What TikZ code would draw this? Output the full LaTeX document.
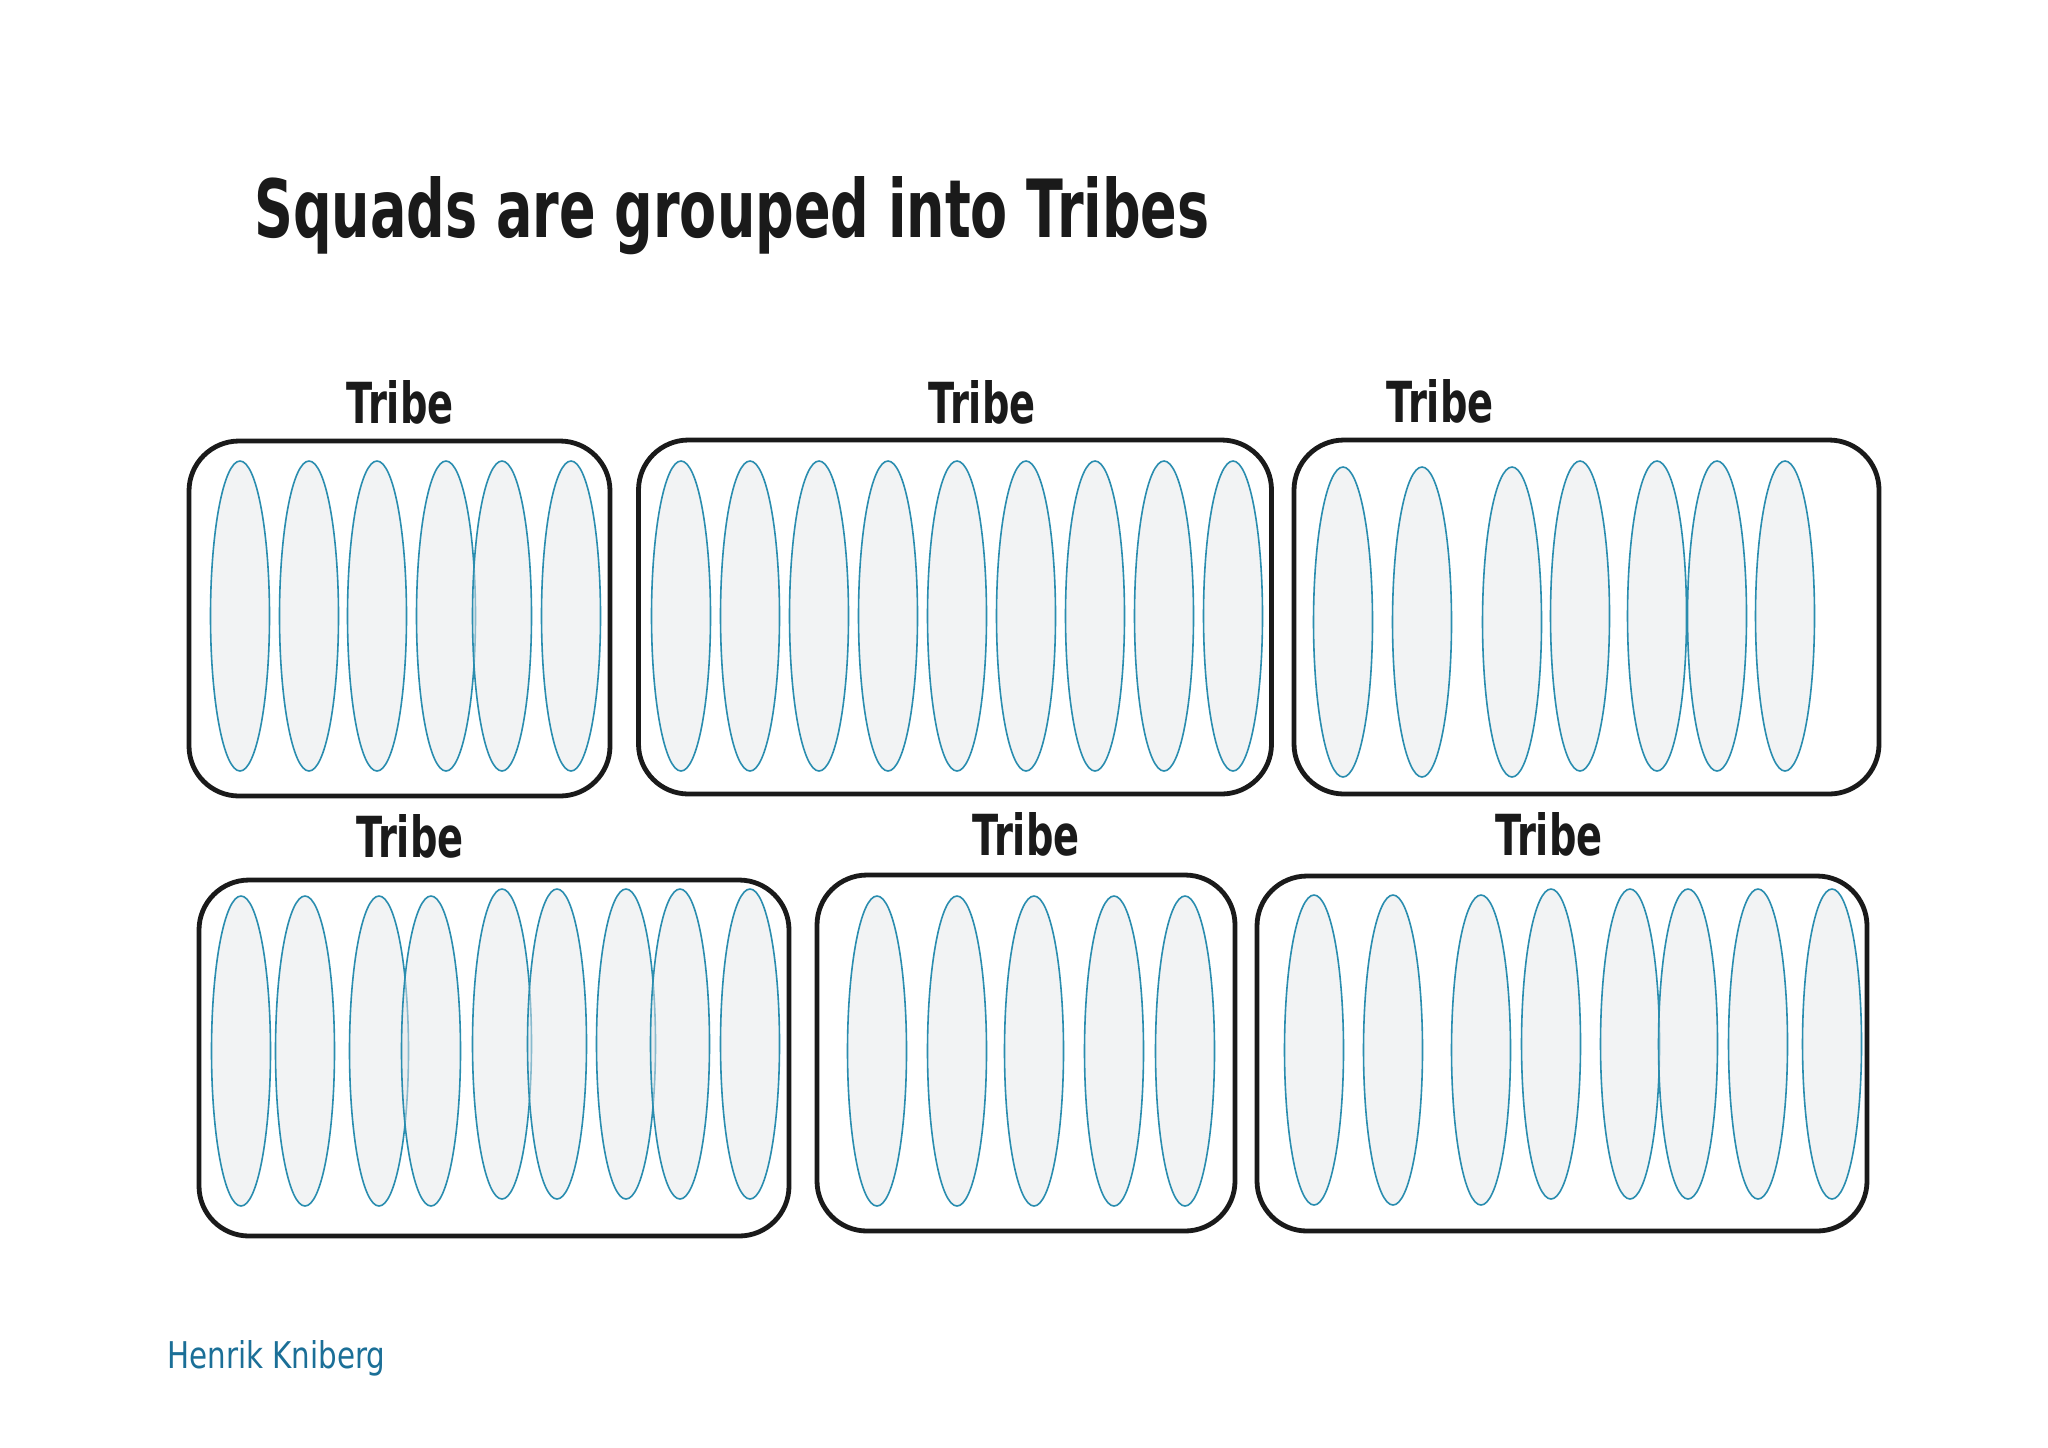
\documentclass[tikz,border=0pt]{standalone}
\usepackage{fontspec}
\usepackage{graphicx}
\usetikzlibrary{shapes.geometric}
\newfontfamily\handfont{DejaVu Sans Condensed}
\definecolor{boxblack}{HTML}{1A1A1A}
\definecolor{squadline}{HTML}{2A8DAF}
\definecolor{squadfill}{HTML}{E6E8EB}
\definecolor{authorblue}{HTML}{1B6F97}
\tikzset{
  tribebox/.style={draw=boxblack, line width=2.4pt, rounded corners=25pt, inner sep=0pt, fill=none},
  squad/.style={ellipse, draw=squadline, line width=0.8pt, fill=squadfill, fill opacity=0.5,
                minimum width=29.5pt, minimum height=155pt, inner sep=0pt},
  tribelabel/.style={anchor=base, inner sep=0pt, text=boxblack},
}
\newcommand{\tribetext}{\resizebox{53.5pt}{21.5pt}{\handfont\bfseries Tribe}}
\begin{document}
\begin{tikzpicture}[x=0.5pt,y=-0.5pt]
\useasboundingbox (0,0) rectangle (2048,1447);
\fill[white] (0,0) rectangle (2048,1447);

% title
\node[anchor=base west, inner sep=0pt, text=boxblack] (title) at (254,237)
  {\resizebox{477.5pt}{30.5pt}{\handfont\bfseries Squads are grouped into Tribes}};

% tribe boxes
\node[tribebox, minimum width=210.5pt, minimum height=177.5pt] (b1) at (399.5,618.5) {};
\node[tribebox, minimum width=316.5pt, minimum height=177pt] (b2) at (955,617) {};
\node[tribebox, minimum width=292.5pt, minimum height=177pt] (b3) at (1586.5,617) {};
\node[tribebox, minimum width=295pt, minimum height=178pt] (b4) at (494,1058) {};
\node[tribebox, minimum width=209pt, minimum height=178pt] (b5) at (1026,1053) {};
\node[tribebox, minimum width=305pt, minimum height=177.5pt] (b6) at (1562,1053.5) {};

% labels
\node[tribelabel] (t1) at (400,423) {\tribetext};
\node[tribelabel] (t2) at (982,423) {\tribetext};
\node[tribelabel] (t3) at (1440,422) {\tribetext};
\node[tribelabel] (t4) at (410,857) {\tribetext};
\node[tribelabel] (t5) at (1026,855) {\tribetext};
\node[tribelabel] (t6) at (1549,855) {\tribetext};

% squads
\foreach \x [count=\i] in {240,309,377,446,502,571}
  \node[squad] (s1-\i) at (\x,616) {};
\foreach \x [count=\i] in {681,750,819,888,957,1026,1095,1164,1233}
  \node[squad] (s2-\i) at (\x,616) {};
\foreach \x [count=\i] in {1343,1422,1512}
  \node[squad] (s3-\i) at (\x,622) {};
\foreach \x [count=\i from 4] in {1580,1657,1717,1785}
  \node[squad] (s3-\i) at (\x,616) {};
\foreach \x [count=\i] in {241,305,379,431}
  \node[squad] (s4-\i) at (\x,1051) {};
\foreach \x [count=\i from 5] in {502,557,626,680,750}
  \node[squad] (s4-\i) at (\x,1044) {};
\foreach \x [count=\i] in {877,957,1034,1114,1185}
  \node[squad] (s5-\i) at (\x,1051) {};
\foreach \x [count=\i] in {1314,1393,1481}
  \node[squad] (s6-\i) at (\x,1050) {};
\foreach \x [count=\i from 4] in {1551,1630,1688,1758,1832}
  \node[squad] (s6-\i) at (\x,1044) {};

% author
\node[anchor=base west, inner sep=0pt, text=authorblue] (author) at (167,1368)
  {\resizebox{109pt}{14pt}{\handfont Henrik Kniberg}};
\end{tikzpicture}
\end{document}
